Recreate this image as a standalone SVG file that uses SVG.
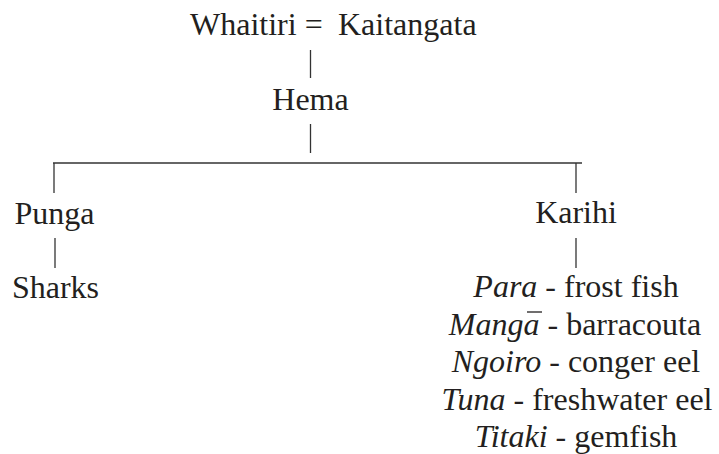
<svg xmlns="http://www.w3.org/2000/svg" width="719" height="454" viewBox="0 0 719 454">
<style>
.n{font-family:'Liberation Serif',serif;font-size:32px;fill:#231f20}
.m{text-anchor:middle}
.i{font-style:italic}
.c line{stroke:#333;stroke-width:1.3}
</style>
<rect width="719" height="454" fill="#fff"/>
<g id="parents"><text class="n" x="190" y="35">Whaitiri =<tspan x="338">Kaitangata</tspan></text></g>
<g id="hema"><text class="n m" x="310.5" y="110">Hema</text></g>
<g id="punga"><text class="n m" x="54.5" y="224">Punga</text></g>
<g id="sharks"><text class="n m" x="55.5" y="298">Sharks</text></g>
<g id="karihi"><text class="n m" x="576" y="223">Karihi</text></g>
<g id="fish">
<text class="n m" x="576" y="297"><tspan class="i">Para</tspan> - frost fish</text>
<text class="n m" x="575" y="334.5"><tspan class="i">Manga</tspan> - barracouta</text>
<line x1="527" y1="312" x2="542" y2="312" stroke="#231f20" stroke-width="1.3"/>
<text class="n m" x="576" y="372"><tspan class="i">Ngoiro</tspan> - conger eel</text>
<text class="n m" x="577" y="409.5"><tspan class="i">Tuna</tspan> - freshwater eel</text>
<text class="n m" x="576" y="447"><tspan class="i">Titaki</tspan> - gemfish</text>
</g>
<g id="connectors" class="c">
<line x1="310.5" y1="50" x2="310.5" y2="78"/>
<line x1="310.5" y1="124" x2="310.5" y2="153"/>
<line x1="53" y1="163" x2="582" y2="163" style="stroke-width:1.5"/>
<line x1="54" y1="163" x2="54" y2="193"/>
<line x1="576" y1="163" x2="576" y2="193"/>
<line x1="55" y1="238" x2="55" y2="268"/>
<line x1="576" y1="238" x2="576" y2="268"/>
</g>
</svg>
